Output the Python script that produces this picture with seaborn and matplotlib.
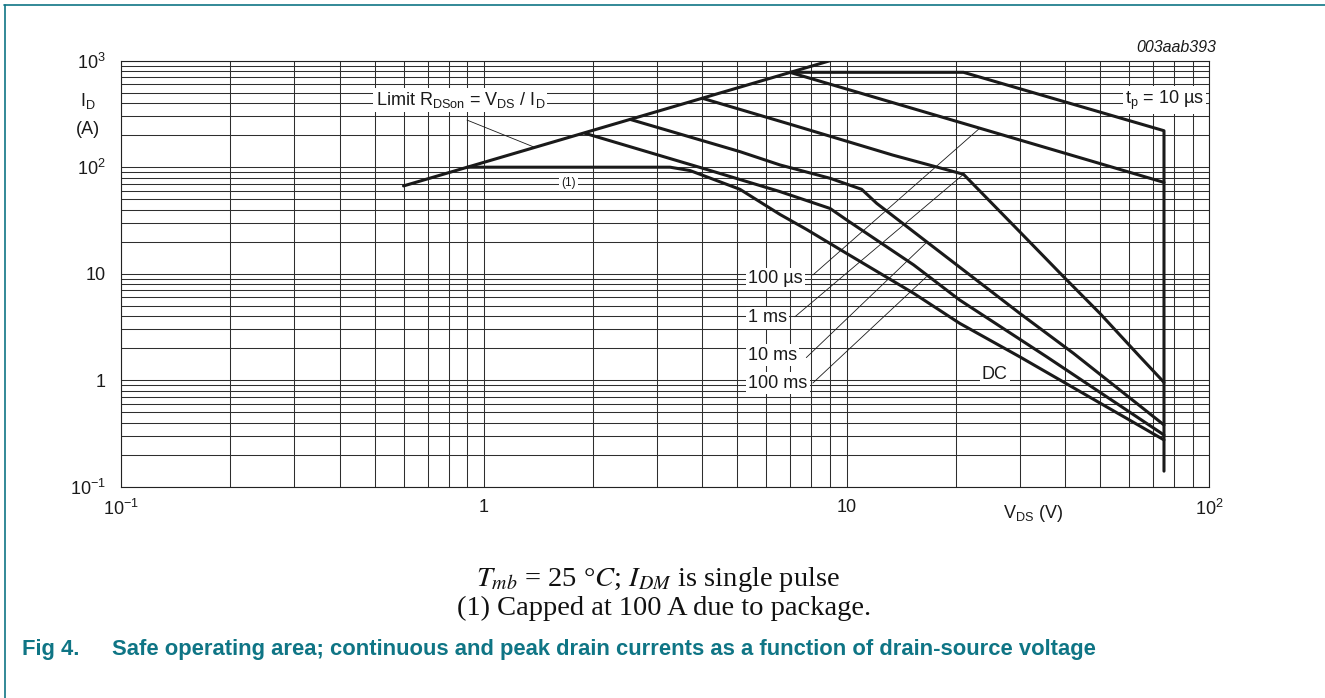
import numpy as np
import pandas as pd
import matplotlib
matplotlib.use("Agg")
import matplotlib.pyplot as plt
from matplotlib.lines import Line2D
import seaborn as sns

# ---------------- data ----------------
limit_v = [0.6, 9.0]
limit_i = [66.7, 1000.0]

us10_v = [6.97, 21.0, 75.0, 75.0]
us10_i = [778.0, 778.0, 220.0, 0.14]

us100_v = [6.97, 75.0]
us100_i = [778.0, 72.0]

ms1_v = [4.0, 7.1, 13.4, 21.0, 30.0, 39.6, 49.9, 64.4, 75.0]
ms1_i = [444.0, 249.0, 130.0, 85.8, 24.8, 9.4, 4.25, 1.66, 0.955]

ms10_v = [2.53, 5.08, 6.55, 9.0, 11.0, 12.1, 16.6, 30.0, 42.2, 75.0]
ms10_i = [281.0, 140.0, 105.0, 78.7, 62.0, 45.8, 20.0, 4.25, 1.79, 0.38]

ms100_v = [1.9, 4.0, 6.55, 9.0, 10.0, 15.3, 20.5, 35.6, 75.0]
ms100_i = [208.0, 98.0, 59.0, 41.0, 32.0, 12.1, 5.66, 1.66, 0.306]

dc_v = [0.9, 3.26, 3.7, 5.08, 6.55, 7.76, 10.0, 15.3, 20.5, 30.0, 75.0]
dc_i = [100.0, 100.0, 93.0, 62.0, 36.0, 26.0, 15.5, 6.55, 3.42, 1.66, 0.275]

series_names = ["limit", "10us", "100us", "1ms", "10ms", "100ms", "DC"]
series_v = [limit_v, us10_v, us100_v, ms1_v, ms10_v, ms100_v, dc_v]
series_i = [limit_i, us10_i, us100_i, ms1_i, ms10_i, ms100_i, dc_i]

x_ticks = [0.1, 1, 10, 100]
x_ticklabels = [r"$10^{-1}$", "1", "10", r"$10^{2}$"]
y_ticks = [0.1, 1, 10, 100, 1000]
y_ticklabels = [r"$10^{-1}$", "1", "10", r"$10^{2}$", r"$10^{3}$"]

# pointer lines: (label side) -> (curve side)
ptr_limit = ([0.898, 1.38], [277.0, 153.6])
ptr_100us = ([8.07, 23.2], [9.72, 230.0])
ptr_1ms = ([7.2, 21.0], [3.94, 85.8])
ptr_10ms = ([7.74, 16.6], [1.63, 19.6])
ptr_100ms = ([8.07, 16.6], [0.941, 9.35])

# ---------------- style ----------------
sns.set_theme(style="white")
plt.rcParams["font.family"] = ["Liberation Sans", "DejaVu Sans"]
plt.rcParams["mathtext.fontset"] = "custom"
plt.rcParams["mathtext.rm"] = "Liberation Sans"
plt.rcParams["mathtext.it"] = "Liberation Sans:italic"
plt.rcParams["mathtext.bf"] = "Liberation Sans:bold"

W, H = 1325, 698
fig = plt.figure(figsize=(W / 100, H / 100), dpi=100)
fig.patch.set_facecolor("white")

def fx(px):
    return px / W

def fy(py):
    return 1 - py / H

ax = fig.add_axes([fx(121.3), fy(486.7), (1209.3 - 121.3) / W, (486.7 - 60.7) / H])
ax.set_facecolor("white")

rows = []
for name, vv, ii in zip(series_names, series_v, series_i):
    for k, (v, i) in enumerate(zip(vv, ii)):
        rows.append({"series": name, "order": k, "V": v, "I": i})
df = pd.DataFrame(rows)

ax.set_xscale("log")
ax.set_yscale("log")
sns.lineplot(data=df, x="V", y="I", units="series", estimator=None, sort=False,
             color="#1a1a1a", linewidth=2.2, ax=ax, zorder=5, legend=False)

ax.set_xlim(0.1, 100)
ax.set_ylim(0.1, 1000)
ax.set_axisbelow(True)
ax.grid(which="both", color="#2e2e2e", linewidth=0.75)
for s in ax.spines.values():
    s.set_visible(True)
    s.set_color("#222222")
    s.set_linewidth(0.8)

ax.set_xticks(x_ticks)
ax.set_xticklabels(x_ticklabels)
ax.set_yticks(y_ticks)
ax.set_yticklabels(y_ticklabels)
ax.tick_params(axis="both", which="both", length=0, labelsize=13, colors="#1a1a1a")
ax.tick_params(axis="y", pad=11)
ax.tick_params(axis="x", pad=9)
ax.set_xlabel("")
ax.set_ylabel("")

# pointer lines
for px_, py_ in [ptr_limit, ptr_100us, ptr_1ms, ptr_10ms, ptr_100ms]:
    ax.plot(px_, py_, color="#1a1a1a", linewidth=0.6, zorder=4)

box = dict(facecolor="white", edgecolor="none", pad=1.5)
ax.text(0.861, 430, r"Limit R$_{\mathrm{DSon}}$ = V$_{\mathrm{DS}}$ / I$_{\mathrm{D}}$",
        ha="center", va="center", fontsize=13, bbox=box, zorder=6, color="#1a1a1a")
ax.text(1.71, 70.6, "(1)", ha="center", va="center", fontsize=8.5, bbox=box, zorder=6, color="#1a1a1a")
ax.text(75.4, 428, r"t$_{\mathrm{p}}$ = 10 µs", ha="center", va="center", fontsize=13,
        bbox=box, zorder=6, color="#1a1a1a")
ax.text(5.35, 8.94, "100 µs", ha="left", va="center", fontsize=13, bbox=box, zorder=6, color="#1a1a1a")
ax.text(5.35, 3.84, "1 ms", ha="left", va="center", fontsize=13, bbox=box, zorder=6, color="#1a1a1a")
ax.text(5.35, 1.72, "10 ms", ha="left", va="center", fontsize=13, bbox=box, zorder=6, color="#1a1a1a")
ax.text(5.35, 0.941, "100 ms", ha="left", va="center", fontsize=13, bbox=box, zorder=6, color="#1a1a1a")
ax.text(25.6, 1.14, "DC", ha="center", va="center", fontsize=13, bbox=box, zorder=6, color="#1a1a1a")

# axis labels / id
fig.text(fx(88), fy(101), r"I$_{\mathrm{D}}$", ha="center", va="center", fontsize=13, color="#1a1a1a")
fig.text(fx(88), fy(129), "(A)", ha="center", va="center", fontsize=13, color="#1a1a1a")
fig.text(fx(1033), fy(513), r"V$_{\mathrm{DS}}$ (V)", ha="center", va="center", fontsize=13, color="#1a1a1a")
fig.text(fx(1216), fy(48), "003aab393", ha="right", va="center", fontsize=11.5,
         style="italic", color="#1a1a1a")

# caption
fig.text(fx(658), fy(579), r"$T_{mb}$ = 25 °$C$; $I_{DM}$ is single pulse", ha="center", va="center",
         fontsize=20.5, family=["Liberation Serif", "DejaVu Serif"], math_fontfamily="stix", color="#111111")
fig.text(fx(664), fy(608), "(1) Capped at 100 A due to package.", ha="center", va="center",
         fontsize=20.5, family=["Liberation Serif", "DejaVu Serif"], color="#111111")

teal = "#0f7585"
fig.text(fx(22), fy(650), "Fig 4.", ha="left", va="center", fontsize=15.8, weight="bold", color=teal)
fig.text(fx(112), fy(650),
         "Safe operating area; continuous and peak drain currents as a function of drain-source voltage",
         ha="left", va="center", fontsize=15.8, weight="bold", color=teal)

fig.add_artist(Line2D([fx(4), 1.0], [fy(5), fy(5)], color=teal, linewidth=1.2))
fig.add_artist(Line2D([fx(4.5), fx(4.5)], [fy(5), 0.0], color=teal, linewidth=1.2))

fig.savefig("out.png", dpi=100, facecolor="white")
